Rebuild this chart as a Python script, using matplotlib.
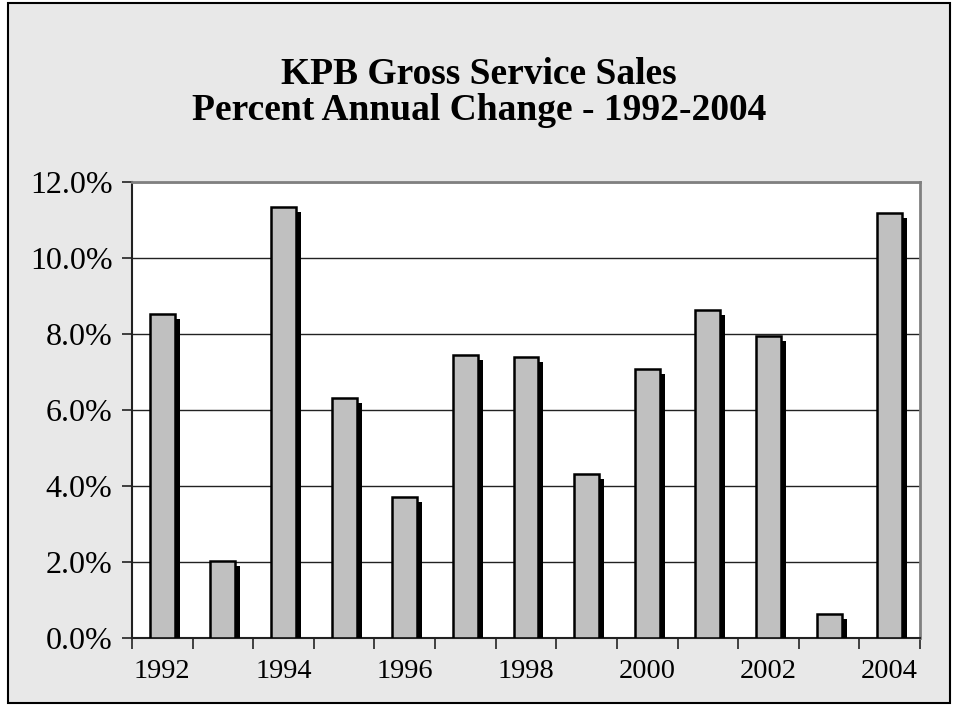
import matplotlib
matplotlib.use("Agg")
import matplotlib.pyplot as plt
import matplotlib.patheffects as pe
from matplotlib.patches import Rectangle
from matplotlib.ticker import FuncFormatter

years = [1992, 1993, 1994, 1995, 1996, 1997, 1998, 1999, 2000, 2001, 2002, 2003, 2004]
pct_change = [8.53, 2.03, 11.34, 6.32, 3.70, 7.45, 7.39, 4.32, 7.08, 8.63, 7.95, 0.62, 11.18]
title_lines = ["KPB Gross Service Sales", "Percent Annual Change - 1992-2004"]
y_ticks = [0, 2, 4, 6, 8, 10, 12]

plt.rcParams['font.family'] = ['Liberation Serif', 'DejaVu Serif']

fig = plt.figure(figsize=(9.58, 7.05), dpi=100, facecolor='white')
bg = Rectangle((8/958, 2/705), 942/958, 700/705, transform=fig.transFigure,
               facecolor='#e8e8e8', edgecolor='black', linewidth=1.5, zorder=-10)
fig.add_artist(bg)

ax = fig.add_axes([132/958, 67/705, 788/958, 456/705])
ax.set_zorder(1)
ax.set_facecolor('white')

x = list(range(len(years)))
bars = ax.bar(x, pct_change, width=0.41, color='#c0c0c0', edgecolor='black', linewidth=1.8, zorder=3)
for b in bars:
    b.set_path_effects([pe.SimplePatchShadow(offset=(3.6, -3.6), shadow_rgbFace='black', alpha=1.0),
                        pe.Normal()])

ax.set_xlim(-0.5, len(years) - 0.5)
ax.set_ylim(0, 12)
ax.set_yticks(y_ticks)
ax.yaxis.set_major_formatter(FuncFormatter(lambda v, p: f"{v:.1f}%"))
ax.yaxis.grid(True, color='#222222', linewidth=1.0, zorder=1)
ax.set_axisbelow(True)

ax.set_xticks([i - 0.5 for i in range(len(years) + 1)])
ax.set_xticklabels([])
ax.set_xticks(x[::2], minor=True)
ax.set_xticklabels([str(y) for y in years[::2]], minor=True)
ax.tick_params(axis='x', which='major', length=8, width=1.2, direction='out', color='#222222')
ax.tick_params(axis='x', which='minor', length=0, pad=15, labelsize=20.5)
ax.tick_params(axis='y', which='major', length=7, width=1.2, direction='out', pad=7, labelsize=23, color='#222222')

for s in ['top', 'right']:
    ax.spines[s].set_color('#808080')
    ax.spines[s].set_linewidth(2.0)
for s in ['left', 'bottom']:
    ax.spines[s].set_color('#222222')
    ax.spines[s].set_linewidth(1.5)

fig.text(479/958, 1 - 75/705, title_lines[0], ha='center', va='center', fontsize=27, fontweight='bold')
fig.text(479/958, 1 - 111/705, title_lines[1], ha='center', va='center', fontsize=27, fontweight='bold')

fig.savefig('out.png', dpi=100, facecolor=fig.get_facecolor())
